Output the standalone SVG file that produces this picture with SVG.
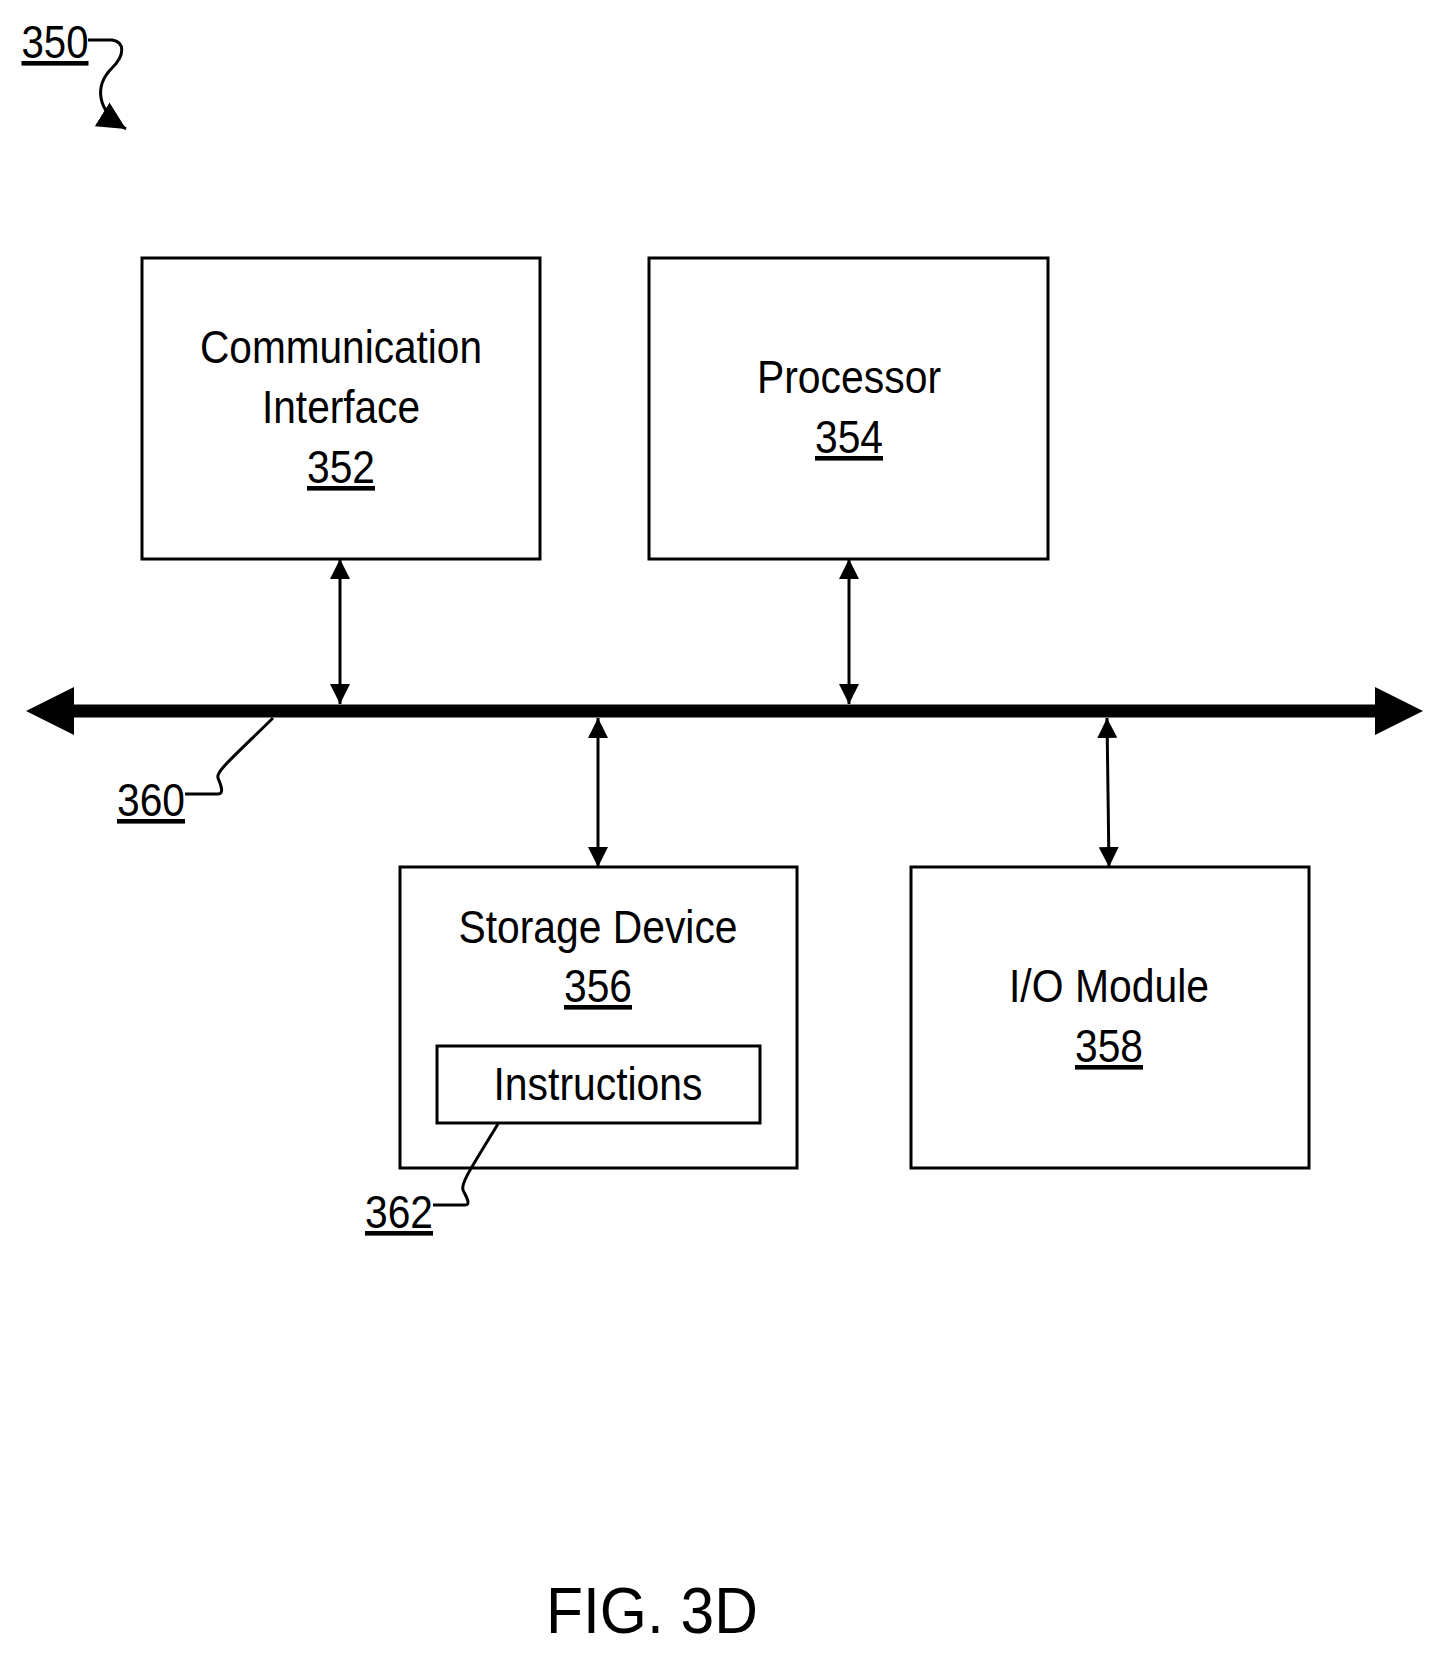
<svg xmlns="http://www.w3.org/2000/svg" width="1443" height="1653" viewBox="0 0 1443 1653">
<style>
.b{fill:none;stroke:#000;stroke-width:3}
.t{font-family:"Liberation Sans",sans-serif;font-size:46px;text-anchor:middle}
.u{text-decoration:underline}
.l{fill:none;stroke:#000;stroke-width:3}
</style>
<defs>
<marker id="s" viewBox="0 0 10 10" refX="10" refY="5" markerWidth="20" markerHeight="20" orient="auto-start-reverse" markerUnits="userSpaceOnUse"><path d="M0,0L10,5L0,10z"/></marker>
<marker id="m" viewBox="0 0 10 10" refX="10" refY="5" markerWidth="28" markerHeight="28" orient="auto" markerUnits="userSpaceOnUse"><path d="M0,0L10,5L0,10z"/></marker>
</defs>
<g id="n352"><rect class="b" x="142" y="258" width="398" height="301"/><text class="t" x="341" y="363" textLength="282" lengthAdjust="spacingAndGlyphs">Communication</text><text class="t" x="341" y="423" textLength="158" lengthAdjust="spacingAndGlyphs">Interface</text><text class="t u" x="341" y="483" textLength="68" lengthAdjust="spacingAndGlyphs">352</text></g>
<g id="n354"><rect class="b" x="649" y="258" width="399" height="301"/><text class="t" x="849" y="393" textLength="184" lengthAdjust="spacingAndGlyphs">Processor</text><text class="t u" x="849" y="453" textLength="68" lengthAdjust="spacingAndGlyphs">354</text></g>
<g id="n356"><rect class="b" x="400" y="867" width="397" height="301"/><text class="t" x="598" y="943" textLength="279" lengthAdjust="spacingAndGlyphs">Storage Device</text><text class="t u" x="598" y="1002" textLength="68" lengthAdjust="spacingAndGlyphs">356</text>
<rect class="b" x="437" y="1046" width="323" height="77"/><text class="t" x="598" y="1100" textLength="209" lengthAdjust="spacingAndGlyphs">Instructions</text></g>
<g id="n358"><rect class="b" x="911" y="867" width="398" height="301"/><text class="t" x="1109" y="1002" textLength="200" lengthAdjust="spacingAndGlyphs">I/O Module</text><text class="t u" x="1109" y="1062" textLength="68" lengthAdjust="spacingAndGlyphs">358</text></g>
<g id="connectors">
<path d="M72,711H1376" stroke="#000" stroke-width="13"/>
<path d="M74,687L26,711L74,735z"/><path d="M1375,687L1423,711L1375,735z"/>
<g stroke="#000" stroke-width="3" fill="none">
<path d="M340,559V704" marker-start="url(#s)" marker-end="url(#s)"/>
<path d="M849,559V704" marker-start="url(#s)" marker-end="url(#s)"/>
<path d="M598,718V867" marker-start="url(#s)" marker-end="url(#s)"/>
<path d="M1107,718L1109,867" marker-start="url(#s)" marker-end="url(#s)"/>
</g>
</g>
<g id="labels">
<text class="t u" x="55" y="58" textLength="67" lengthAdjust="spacingAndGlyphs">350</text>
<path class="l" d="M88,40H112C125,42 125,55 112,68C95,85 95,110 126,129" marker-end="url(#m)"/>
<text class="t u" x="151" y="816" textLength="68" lengthAdjust="spacingAndGlyphs">360</text>
<path class="l" d="M185,794H218C225,794 220,783 218,778C216,772 225,765 273,718"/>
<text class="t u" x="399" y="1228" textLength="68" lengthAdjust="spacingAndGlyphs">362</text>
<path class="l" d="M433,1205H465C472,1205 465,1195 463,1190C461,1184 466,1176 498,1124"/>
<text x="652" y="1633" textLength="212" lengthAdjust="spacingAndGlyphs" style="font-family:'Liberation Sans',sans-serif;font-size:64px;text-anchor:middle">FIG. 3D</text>
</g>
</svg>
